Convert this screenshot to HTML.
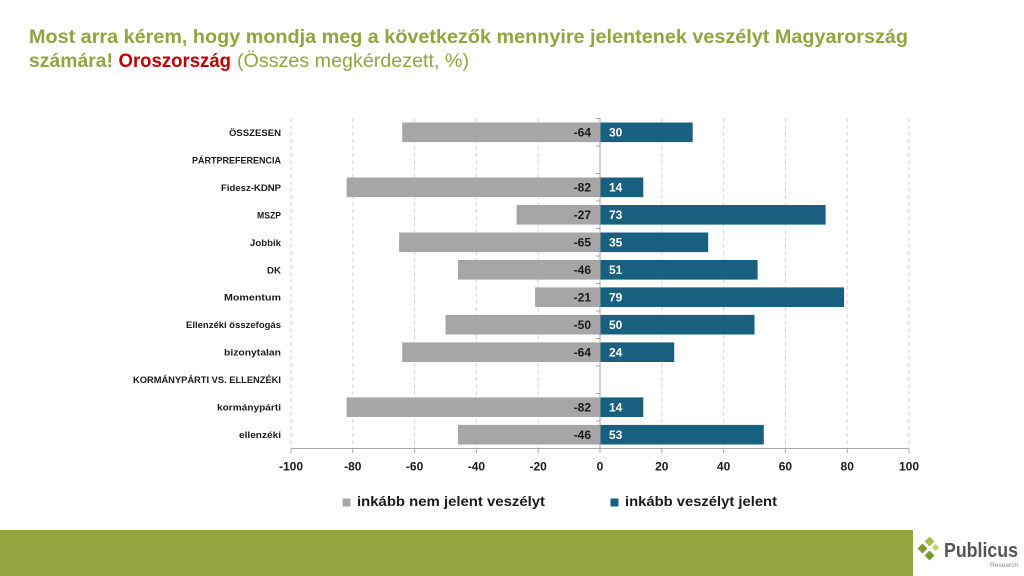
<!DOCTYPE html>
<html><head><meta charset="utf-8"><style>
html,body{margin:0;padding:0;background:#fff;}
svg{display:block;font-family:"Liberation Sans",Arial,sans-serif;}
</style></head><body>
<svg width="1024" height="576" viewBox="0 0 1024 576" xmlns="http://www.w3.org/2000/svg">
<rect width="1024" height="576" fill="#fff"/>
<!-- Title -->
<text x="29" y="43" font-size="19.5" font-weight="bold" fill="#93a43f" textLength="879" lengthAdjust="spacingAndGlyphs">Most arra kérem, hogy mondja meg a következők mennyire jelentenek veszélyt Magyarország</text>
<text y="67" font-size="19.5"><tspan x="29" font-weight="bold" fill="#93a43f" textLength="84" lengthAdjust="spacingAndGlyphs">számára!</tspan><tspan x="118.5" font-weight="bold" fill="#c00000" textLength="112.5" lengthAdjust="spacingAndGlyphs">Oroszország</tspan><tspan x="237" fill="#93a43f" textLength="232" lengthAdjust="spacingAndGlyphs">(Összes megkérdezett, %)</tspan></text>

<!-- gridlines -->
<g stroke="#d4d4d4" stroke-width="1" stroke-dasharray="4,3">
<line x1="291" y1="118" x2="291" y2="448"/>
<line x1="352.8" y1="118" x2="352.8" y2="448"/>
<line x1="414.6" y1="118" x2="414.6" y2="448"/>
<line x1="476.4" y1="118" x2="476.4" y2="448"/>
<line x1="538.2" y1="118" x2="538.2" y2="448"/>
<line x1="661.8" y1="118" x2="661.8" y2="448"/>
<line x1="723.6" y1="118" x2="723.6" y2="448"/>
<line x1="785.4" y1="118" x2="785.4" y2="448"/>
<line x1="847.2" y1="118" x2="847.2" y2="448"/>
<line x1="909" y1="118" x2="909" y2="448"/>
</g>

<!-- negative bars -->
<g fill="#a6a6a6">
<rect x="402.2" y="122.5" width="197.8" height="19.6"/>
<rect x="346.6" y="177.5" width="253.4" height="19.6"/>
<rect x="516.6" y="205" width="83.4" height="19.6"/>
<rect x="399.1" y="232.5" width="200.9" height="19.6"/>
<rect x="457.9" y="260" width="142.1" height="19.6"/>
<rect x="535.1" y="287.4" width="64.9" height="19.6"/>
<rect x="445.5" y="314.9" width="154.5" height="19.6"/>
<rect x="402.2" y="342.4" width="197.8" height="19.6"/>
<rect x="346.6" y="397.4" width="253.4" height="19.6"/>
<rect x="457.9" y="424.9" width="142.1" height="19.6"/>
</g>
<!-- positive bars -->
<g fill="#185f80">
<rect x="600" y="122.5" width="92.7" height="19.6"/>
<rect x="600" y="177.5" width="43.3" height="19.6"/>
<rect x="600" y="205" width="225.6" height="19.6"/>
<rect x="600" y="232.5" width="108.2" height="19.6"/>
<rect x="600" y="260" width="157.6" height="19.6"/>
<rect x="600" y="287.4" width="244.1" height="19.6"/>
<rect x="600" y="314.9" width="154.5" height="19.6"/>
<rect x="600" y="342.4" width="74.2" height="19.6"/>
<rect x="600" y="397.4" width="43.3" height="19.6"/>
<rect x="600" y="424.9" width="163.8" height="19.6"/>
</g>

<!-- axes -->
<g stroke="#a6a6a6" stroke-width="1">
<line x1="600" y1="118" x2="600" y2="448.5"/>
<line x1="291" y1="448.5" x2="909" y2="448.5"/>
<line x1="291" y1="448.5" x2="291" y2="453"/>
<line x1="352.8" y1="448.5" x2="352.8" y2="453"/>
<line x1="414.6" y1="448.5" x2="414.6" y2="453"/>
<line x1="476.4" y1="448.5" x2="476.4" y2="453"/>
<line x1="538.2" y1="448.5" x2="538.2" y2="453"/>
<line x1="600" y1="448.5" x2="600" y2="453"/>
<line x1="661.8" y1="448.5" x2="661.8" y2="453"/>
<line x1="723.6" y1="448.5" x2="723.6" y2="453"/>
<line x1="785.4" y1="448.5" x2="785.4" y2="453"/>
<line x1="847.2" y1="448.5" x2="847.2" y2="453"/>
<line x1="909" y1="448.5" x2="909" y2="453"/>
<line x1="596" y1="118.5" x2="600" y2="118.5"/>
<line x1="596" y1="146" x2="600" y2="146"/>
<line x1="596" y1="173.5" x2="600" y2="173.5"/>
<line x1="596" y1="201" x2="600" y2="201"/>
<line x1="596" y1="228.5" x2="600" y2="228.5"/>
<line x1="596" y1="256" x2="600" y2="256"/>
<line x1="596" y1="283.5" x2="600" y2="283.5"/>
<line x1="596" y1="311" x2="600" y2="311"/>
<line x1="596" y1="338.5" x2="600" y2="338.5"/>
<line x1="596" y1="366" x2="600" y2="366"/>
<line x1="596" y1="393.5" x2="600" y2="393.5"/>
<line x1="596" y1="421" x2="600" y2="421"/>
</g>

<!-- category labels -->
<g font-size="9.5" font-weight="bold" fill="#1a1a1a" text-anchor="end">
<text x="281" y="135.8" textLength="52" lengthAdjust="spacingAndGlyphs">ÖSSZESEN</text>
<text x="281" y="163.3" textLength="89" lengthAdjust="spacingAndGlyphs">PÁRTPREFERENCIA</text>
<text x="281" y="190.8" textLength="60" lengthAdjust="spacingAndGlyphs">Fidesz-KDNP</text>
<text x="281" y="218.3" textLength="24" lengthAdjust="spacingAndGlyphs">MSZP</text>
<text x="281" y="245.8" textLength="31" lengthAdjust="spacingAndGlyphs">Jobbik</text>
<text x="281" y="273.3" textLength="14" lengthAdjust="spacingAndGlyphs">DK</text>
<text x="281" y="300.7" textLength="57" lengthAdjust="spacingAndGlyphs">Momentum</text>
<text x="281" y="328.2" textLength="95" lengthAdjust="spacingAndGlyphs">Ellenzéki összefogás</text>
<text x="281" y="355.7" textLength="57" lengthAdjust="spacingAndGlyphs">bizonytalan</text>
<text x="281" y="383.2" textLength="148" lengthAdjust="spacingAndGlyphs">KORMÁNYPÁRTI VS. ELLENZÉKI</text>
<text x="281" y="410.7" textLength="64" lengthAdjust="spacingAndGlyphs">kormánypárti</text>
<text x="281" y="438.2" textLength="42" lengthAdjust="spacingAndGlyphs">ellenzéki</text>
</g>

<!-- value labels negative -->
<g font-size="12" font-weight="bold" fill="#1a1a1a" text-anchor="end">
<text x="591" y="136.6">-64</text>
<text x="591" y="191.6">-82</text>
<text x="591" y="219.1">-27</text>
<text x="591" y="246.6">-65</text>
<text x="591" y="274.1">-46</text>
<text x="591" y="301.5">-21</text>
<text x="591" y="329">-50</text>
<text x="591" y="356.5">-64</text>
<text x="591" y="411.5">-82</text>
<text x="591" y="439">-46</text>
</g>
<!-- value labels positive -->
<g font-size="12" font-weight="bold" fill="#ffffff">
<text x="609" y="136.6">30</text>
<text x="609" y="191.6">14</text>
<text x="609" y="219.1">73</text>
<text x="609" y="246.6">35</text>
<text x="609" y="274.1">51</text>
<text x="609" y="301.5">79</text>
<text x="609" y="329">50</text>
<text x="609" y="356.5">24</text>
<text x="609" y="411.5">14</text>
<text x="609" y="439">53</text>
</g>

<!-- tick labels -->
<g font-size="12" font-weight="bold" fill="#1a1a1a" text-anchor="middle">
<text x="291" y="470.5">-100</text>
<text x="352.8" y="470.5">-80</text>
<text x="414.6" y="470.5">-60</text>
<text x="476.4" y="470.5">-40</text>
<text x="538.2" y="470.5">-20</text>
<text x="600" y="470.5">0</text>
<text x="661.8" y="470.5">20</text>
<text x="723.6" y="470.5">40</text>
<text x="785.4" y="470.5">60</text>
<text x="847.2" y="470.5">80</text>
<text x="909" y="470.5">100</text>
</g>

<!-- legend -->
<rect x="342.5" y="498.5" width="8" height="8" fill="#a6a6a6"/>
<text x="357" y="506" font-size="14" font-weight="bold" fill="#1a1a1a" textLength="188" lengthAdjust="spacingAndGlyphs">inkább nem jelent veszélyt</text>
<rect x="610.5" y="498.5" width="8" height="8" fill="#185f80"/>
<text x="625" y="506" font-size="14" font-weight="bold" fill="#1a1a1a" textLength="152" lengthAdjust="spacingAndGlyphs">inkább veszélyt jelent</text>

<!-- bottom band -->
<rect x="0" y="530" width="913" height="46" fill="#94a33d"/>

<!-- logo -->
<g>
<rect x="926" y="538" width="7" height="7" fill="#a9bd4a" transform="rotate(45 929.5 541.5)"/>
<rect x="919" y="545" width="7" height="7" fill="#7d9a34" transform="rotate(45 922.5 548.5)"/>
<rect x="926" y="552" width="7" height="7" fill="#7d9a34" transform="rotate(45 929.5 555.5)"/>
<rect x="933" y="545" width="5" height="5" fill="#c3d26a" transform="rotate(45 935.5 547.5)"/>
</g>
<text x="944" y="557" font-size="20" font-weight="bold" fill="#555555" textLength="74" lengthAdjust="spacingAndGlyphs">Publicus</text>
<text x="990" y="567" font-size="6" fill="#8a8a8a" textLength="28" lengthAdjust="spacingAndGlyphs">Research</text>
</svg>
</body></html>
